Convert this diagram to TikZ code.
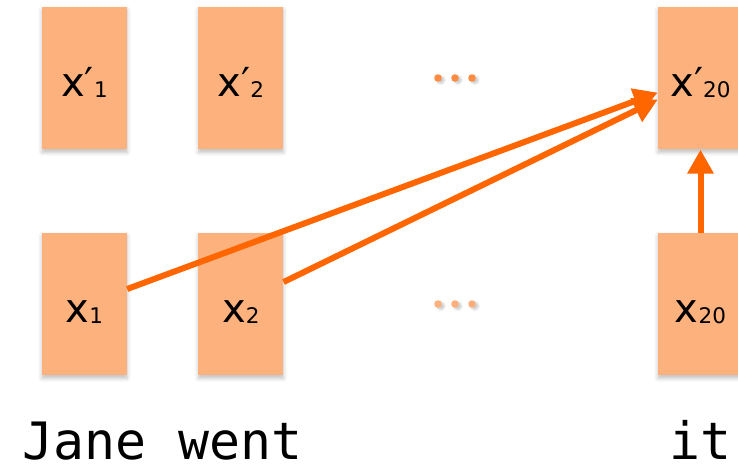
\documentclass[tikz,border=0pt]{standalone}
\usepackage{fontspec}
\setmainfont{DejaVu Sans}
\setmonofont{DejaVu Sans Mono}
\usepackage{tikz}
\usetikzlibrary{positioning,arrows.meta,shadows.blur}
\definecolor{cellfill}{RGB}{253, 177, 125}
\definecolor{linkorange}{RGB}{255, 102, 0}
\definecolor{dotdark}{RGB}{253, 140, 66}
\definecolor{dotlight}{RGB}{253, 176, 125}

% token labels: x with a small subscript
\newcommand{\xsub}[1]{x\raisebox{-1.5pt}{\fontsize{21.5}{22}\selectfont #1}}
\newcommand{\xpsub}[1]{x′\raisebox{-1.5pt}{\fontsize{21.5}{22}\selectfont #1}}

\begin{document}
\begin{tikzpicture}[x=1pt, y=1pt,
    cell/.style={rectangle, fill=cellfill, minimum width=85pt, minimum height=142.5pt,
        inner sep=0pt, text height=36pt, text depth=0pt,
        font=\fontsize{40}{40}\selectfont,
        blur shadow={shadow xshift=0pt, shadow yshift=-3pt, shadow blur radius=4pt, shadow opacity=25}},
    link/.style={draw=linkorange, line width=6pt, -{Triangle[length=24pt, width=25pt]}},
    word/.style={font=\ttfamily\fontsize{51.5}{52}\selectfont, inner sep=0pt, text depth=0pt}]
    \useasboundingbox (0,0) rectangle (738,464);

    % input row
    \node[cell] (x1) at (84.5,160) {\xsub{1}};
    \node[cell, right=71pt of x1] (x2) {\xsub{2}};
    \node[cell] (x20) at (700.5,160) {\xsub{20}};

    % output row
    \node[cell, above=83pt of x1] (xp1) {\xpsub{1}};
    \node[cell, above=83pt of x2] (xp2) {\xpsub{2}};
    \node[cell, above=83pt of x20] (xp20) {\xpsub{20}};

    % ellipsis between the columns
    \foreach \dx in {-17,0,17} {
        \fill[dotdark, blur shadow={shadow yshift=-2pt, shadow blur radius=2pt, shadow opacity=20}] (455+\dx,386) circle (3.8pt);
        \fill[dotlight, blur shadow={shadow yshift=-2pt, shadow blur radius=2pt, shadow opacity=20}] (455+\dx,160) circle (3.8pt);
    }

    % words
    \node[word, below=84pt of x1.south, anchor=base] (jane) {Jane};
    \node[word, below=84pt of x2.south, anchor=base] (went) {went};
    \node[word, below=84pt of x20.south, anchor=base] (it) {it};

    % connections into x'20
    \draw[link] ([yshift=15pt]x1.east) -- ([yshift=-14.5pt]xp20.west);
    \draw[link] ([yshift=22pt]x2.east) -- ([yshift=-21.5pt]xp20.west);
    \draw[link] (x20.north) -- (xp20.south);
\end{tikzpicture}
\end{document}
